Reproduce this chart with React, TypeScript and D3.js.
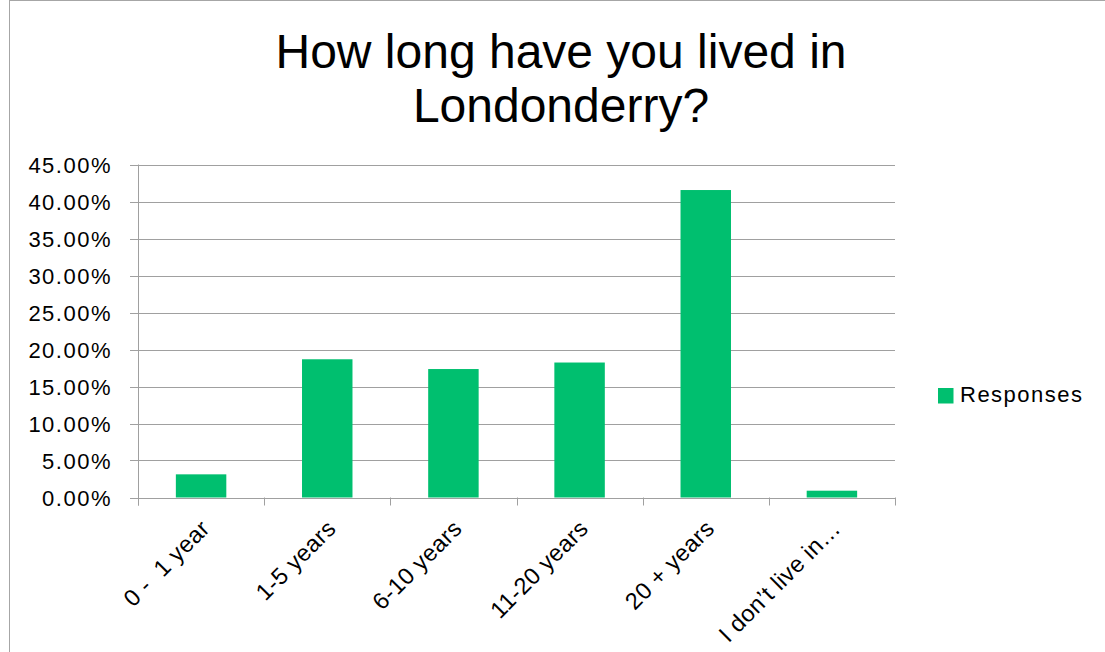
import React from "react";
import * as d3 from "d3";

const categories = ["0 -  1 year", "1-5 years", "6-10 years", "11-20 years", "20 + years", "I don\u2019t live in\u2026"];
const responses = [3.13, 18.68, 17.36, 18.24, 41.55, 0.92];
const yTicks = [0, 5, 10, 15, 20, 25, 30, 35, 40, 45];
const titleLines = ["How long have you lived in", "Londonderry?"];
const seriesName = "Responses";

const W = 1105;
const H = 652;
const plot = { left: 138, right: 895, top: 164.5, bottom: 497.5 };
const GREEN = "#00BF6F";
const GRID = "#A0A0A0";
const FONT = "'Liberation Sans', Arial, sans-serif";

export default function App() {
  const x = d3.scaleBand<string>().domain(categories).range([plot.left, plot.right]).paddingInner(0.6).paddingOuter(0.3);
  const xEdge = d3.scaleLinear().domain([0, categories.length]).range([plot.left, plot.right]);
  const y = d3.scaleLinear().domain([0, 45]).range([plot.bottom, plot.top]);

  return (
    <svg width={W} height={H} style={{ position: "absolute", left: 0, top: 0, background: "#fff" }}>
      <rect x={9.5} y={0.5} width={1200} height={800} fill="#fff" stroke="#A6A6A6" strokeWidth={1} />
      <g fontFamily={FONT} fill="#000">
        {titleLines.map((t, i) => (
          <text key={i} x={561} y={68 + i * 54} textAnchor="middle" fontSize={48}>
            {t}
          </text>
        ))}
      </g>
      {yTicks.map((t) => (
        <line key={"g" + t} x1={plot.left - 8} x2={plot.right} y1={Math.round(y(t)) + 0.5} y2={Math.round(y(t)) + 0.5} stroke={GRID} strokeWidth={1} />
      ))}
      <line x1={plot.left + 0.5} x2={plot.left + 0.5} y1={plot.top} y2={plot.bottom + 8} stroke={GRID} />
      {yTicks.map((t) => (
        <text key={"yl" + t} x={112} y={y(t) + 8} textAnchor="end" fontSize={22} letterSpacing={1.5} fontFamily={FONT} fill="#000">
          {t.toFixed(2) + "%"}
        </text>
      ))}
      {categories.map((c, i) => (
        <rect key={"b" + i} x={x(c)} y={y(responses[i])} width={x.bandwidth()} height={plot.bottom - y(responses[i])} fill={GREEN} />
      ))}
      {d3.range(categories.length + 1).map((i) => (
        <line key={"xt" + i} x1={Math.round(xEdge(i)) + 0.5} x2={Math.round(xEdge(i)) + 0.5} y1={plot.bottom} y2={plot.bottom + 8} stroke={GRID} />
      ))}
      {categories.map((c, i) => {
        const cx = (x(c) as number) + x.bandwidth() / 2;
        return (
          <text key={"xl" + i} transform={`translate(${cx + 10},${530}) rotate(-45)`} textAnchor="end" fontSize={23.5} letterSpacing={0.4} fontFamily={FONT} fill="#000" style={{ whiteSpace: "pre" }}>
            {c}
          </text>
        );
      })}
      <rect x={938} y={388} width={15.5} height={15.5} fill={GREEN} />
      <text x={960} y={402} fontSize={22} letterSpacing={1.5} fontFamily={FONT} fill="#000">
        {seriesName}
      </text>
    </svg>
  );
}
